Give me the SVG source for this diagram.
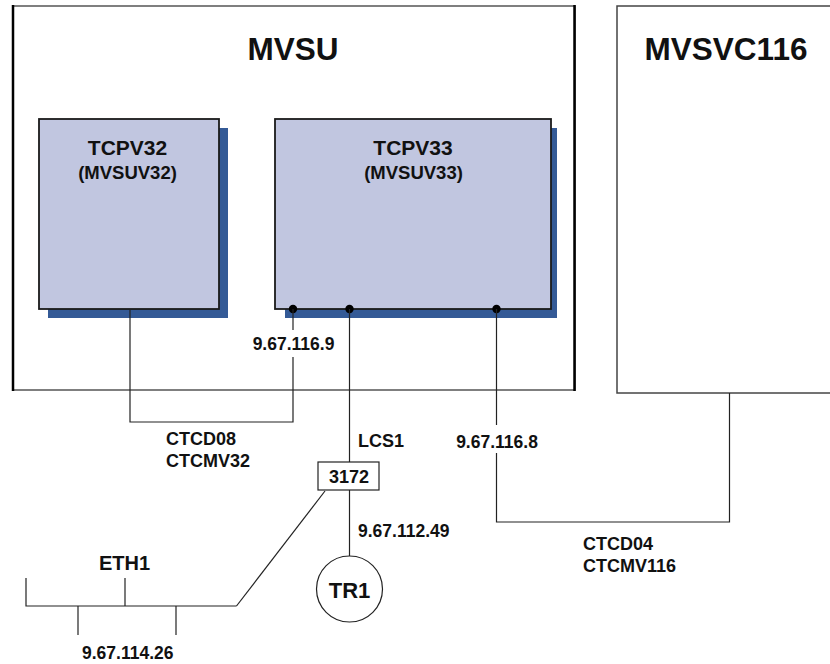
<svg xmlns="http://www.w3.org/2000/svg" width="830" height="664" viewBox="0 0 830 664">
<style>
text{font-family:"Liberation Sans",Arial,sans-serif;font-weight:bold;fill:#111}
.big{font-size:31.5px;text-anchor:middle}
.t1{font-size:21px;text-anchor:middle}
.t2{font-size:18.5px;text-anchor:middle}
.lb{font-size:17.5px}
.mid{text-anchor:middle}
.ln{fill:none;stroke:#222;stroke-width:1.2}
.sh{fill:#345a96}
.bx{fill:#c1c6e0;stroke:#1a1a1a;stroke-width:1.8}
.dot{fill:#000}
</style>
<rect width="830" height="664" fill="#fff"/>
<g id="MVSU">
<rect x="13" y="6" width="562" height="384" fill="none" stroke="#555" stroke-width="1.5"/>
<line x1="13" y1="5" x2="13" y2="391" stroke="#000" stroke-width="2.5"/>
<line x1="574.5" y1="5" x2="574.5" y2="391" stroke="#000" stroke-width="2.5"/>
<text class="big" x="293" y="60">MVSU</text>
</g>
<g id="MVSVC116">
<rect x="617" y="6" width="220" height="387" fill="none" stroke="#444" stroke-width="1.5"/>
<text class="big" x="726" y="60">MVSVC116</text>
</g>
<g id="TCPV32">
<rect class="sh" x="48" y="128" width="180" height="190"/>
<rect class="bx" x="39" y="119" width="180" height="190"/>
<text class="t1" x="127.5" y="155">TCPV32</text>
<text class="t2" x="127.5" y="179">(MVSUV32)</text>
</g>
<g id="TCPV33">
<rect class="sh" x="285" y="128" width="272" height="190"/>
<rect class="bx" x="275" y="119" width="276" height="190"/>
<text class="t1" x="413" y="155">TCPV33</text>
<text class="t2" x="413.5" y="179">(MVSUV33)</text>
<circle class="dot" cx="293" cy="309" r="4.2"/>
<circle class="dot" cx="349.5" cy="309" r="4.2"/>
<circle class="dot" cx="496.5" cy="309" r="4.2"/>
</g>
<g id="connectors">
<polyline class="ln" points="130,309 130,422 293,422 293,357"/>
<line class="ln" x1="293" y1="309" x2="293" y2="330"/>
<line class="ln" x1="349.5" y1="309" x2="349.5" y2="462"/>
<line class="ln" x1="349.5" y1="490" x2="349.5" y2="557"/>
<line class="ln" x1="325" y1="491" x2="236.5" y2="606"/>
<polyline class="ln" points="496.5,309 496.5,425"/>
<polyline class="ln" points="496.5,453 496.5,522 729.5,522 729.5,393"/>
<text class="lb" x="293.5" y="350" text-anchor="middle">9.67.116.9</text>
<text class="lb" x="497" y="448" text-anchor="middle">9.67.116.8</text>
<text class="lb" x="166" y="445" style="font-size:18px">CTCD08</text>
<text class="lb" x="166" y="467" style="font-size:18px">CTCMV32</text>
<text class="lb" x="358" y="447" style="font-size:18px">LCS1</text>
<text class="lb" x="358" y="537">9.67.112.49</text>
<text class="lb" x="583" y="550" style="font-size:18px">CTCD04</text>
<text class="lb" x="583" y="572" style="font-size:18px">CTCMV116</text>
</g>
<g id="n3172">
<rect x="318" y="462" width="61" height="28" fill="#fff" stroke="#222" stroke-width="1.2"/>
<text class="lb mid" x="349" y="483" style="font-size:18px">3172</text>
</g>
<g id="TR1">
<circle cx="349.5" cy="589" r="33" fill="#fff" stroke="#222" stroke-width="1.2"/>
<text class="mid" x="349.5" y="598" style="font-size:22px">TR1</text>
</g>
<g id="ETH1">
<polyline class="ln" points="26,578 26,606 236.5,606"/>
<line class="ln" x1="125" y1="578" x2="125" y2="606"/>
<line class="ln" x1="78" y1="606" x2="78" y2="635"/>
<line class="ln" x1="176" y1="606" x2="176" y2="635"/>
<text x="99" y="570" style="font-size:20px">ETH1</text>
<text class="lb" x="82" y="659">9.67.114.26</text>
</g>
</svg>
